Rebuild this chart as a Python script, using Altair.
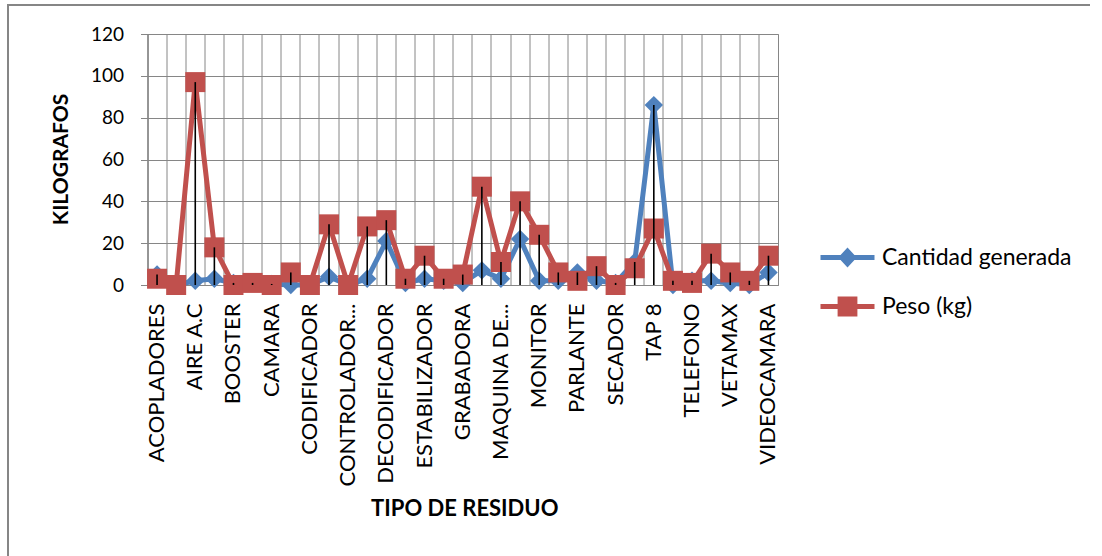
import altair as alt
import pandas as pd

# Tipos de residuo (eje de categorías); solo se rotulan los de posición par
tipos = [
    "ACOPLADORES", "ADAPTADOR", "AIRE A.C", "AMPLIFICADOR", "BOOSTER", "CABLES",
    "CAMARA", "CARGADOR", "CODIFICADOR", "COMPUTADOR", "CONTROLADOR...", "CPU",
    "DECODIFICADOR", "DVD", "ESTABILIZADOR", "FAX", "GRABADORA", "IMPRESORA",
    "MAQUINA DE...", "MODEM", "MONITOR", "MOUSE", "PARLANTE", "RADIO",
    "SECADOR", "SWITCH", "TAP 8", "TECLADO", "TELEFONO", "TELEVISOR",
    "VETAMAX", "VHS", "VIDEOCAMARA",
]
cantidad = [5, 0, 2, 3, 1, 1, 0.5, 0, 0, 4, 0, 3, 21, 1, 3, 2, 1, 7, 3, 22,
            2, 2, 6, 2, 1, 11, 86, 0, 2, 2, 1, 0, 6]
peso = [3, 0, 97, 18, 0, 1, 0, 6, 0, 29, 0, 28, 31, 3, 14, 3, 5, 47, 11, 40,
        24, 6, 2, 9, 0, 8, 27, 2, 1, 15, 6, 2, 14]
series = ["Cantidad generada", "Peso (kg)"]
y_ticks = [0, 20, 40, 60, 80, 100, 120]

AZUL = "#4F81BD"
ROJO = "#C0504D"
GRIS = "#868686"
FUENTE = "Lato"

W, H = 630.5, 251
PAD_L, PAD_T = 147.5, 34

ocultos = [t for i, t in enumerate(tipos) if i % 2 == 1]

wide = pd.DataFrame({"tipo": tipos, "cantidad": cantidad, "peso": peso})
long = pd.DataFrame({
    "tipo": tipos * 2,
    "serie": [series[0]] * len(tipos) + [series[1]] * len(tipos),
    "valor": cantidad + peso,
})

x_enc = alt.X(
    "tipo:N",
    sort=tipos,
    scale=alt.Scale(type="band", paddingInner=0, paddingOuter=0),
    axis=alt.Axis(
        title="TIPO DE RESIDUO",
        bandPosition=0,
        grid=True,
        gridColor=GRIS,
        gridWidth=1,
        ticks=False,
        domainColor=GRIS,
        labelAngle=-90,
        labelAlign="right",
        labelBaseline="middle",
        labelOffset=0,
        labelPadding=18,
        labelFont=FUENTE,
        labelFontSize=22,
        labelColor="black",
        labelLimit=400,
        labelOverlap=False,
        labelExpr="indexof(" + str(ocultos) + ", datum.value) >= 0 ? '' : datum.label",
        titleFont=FUENTE,
        titleFontSize=22,
        titleFontWeight="bold",
        titleColor="black",
        titleX=W / 2 + 1.5,
        titleY=223,
        titleAlign="center",
        titleBaseline="middle",
    ),
)

y_scale = alt.Scale(domain=[0, 120], nice=False)
y_axis = alt.Axis(
    title="KILOGRAFOS",
    values=y_ticks,
    grid=True,
    gridColor=GRIS,
    gridWidth=1,
    tickSize=7,
    tickColor=GRIS,
    domainColor=GRIS,
    labelFont=FUENTE,
    labelFontSize=19,
    labelColor="black",
    labelPadding=17,
    titleFont=FUENTE,
    titleFontSize=21,
    titleFontWeight="bold",
    titleColor="black",
    titleAngle=270,
    titleX=-86,
    titleY=125,
    titleAlign="center",
    titleBaseline="middle",
)

base = alt.Chart(wide)

linea_cant = base.mark_line(color=AZUL, strokeWidth=5).encode(
    x=x_enc, y=alt.Y("cantidad:Q", scale=y_scale, axis=y_axis)
)
puntos_cant = base.mark_point(
    shape="diamond", filled=True, size=340, color=AZUL, opacity=1
).encode(x=x_enc, y=alt.Y("cantidad:Q", scale=y_scale))

linea_peso = base.mark_line(color=ROJO, strokeWidth=5).encode(
    x=x_enc, y=alt.Y("peso:Q", scale=y_scale)
)
puntos_peso = base.mark_point(
    shape="square", filled=True, size=400, color=ROJO, opacity=1
).encode(x=x_enc, y=alt.Y("peso:Q", scale=y_scale))

# Líneas de proyección desde el valor más alto hasta el eje
proyeccion = base.transform_calculate(
    tope="max(datum.cantidad, datum.peso)", cero="0"
).mark_rule(color="black", strokeWidth=1.6).encode(
    x=x_enc,
    y=alt.Y("tope:Q", scale=y_scale),
    y2="cero:Q",
)

# Símbolos de leyenda: trazo de línea con su marcador
SIM_ROMBO = ("M-3,-0.27L-0.77,-0.27L0,-1.1L0.77,-0.27L3,-0.27L3,0.27"
             "L0.77,0.27L0,1.1L-0.77,0.27L-3,0.27Z")
SIM_CUADRO = ("M-3,-0.27L-1.1,-0.27L-1.1,-1.1L1.1,-1.1L1.1,-0.27L3,-0.27"
              "L3,0.27L1.1,0.27L1.1,1.1L-1.1,1.1L-1.1,0.27L-3,0.27Z")

leyenda = alt.Legend(
    title=None,
    orient="none",
    legendX=688.5,
    legendY=212,
    symbolSize=324,
    symbolStrokeWidth=0,
    symbolOpacity=1,
    labelFont=FUENTE,
    labelFontSize=23,
    labelColor="black",
    labelOffset=23,
    labelLimit=400,
    rowPadding=25,
)
capa_leyenda = alt.Chart(long).mark_point(filled=True, opacity=0).encode(
    x=x_enc,
    y=alt.Y("valor:Q", scale=y_scale),
    color=alt.Color("serie:N", scale=alt.Scale(domain=series, range=[AZUL, ROJO]), legend=leyenda),
    shape=alt.Shape("serie:N", scale=alt.Scale(domain=series, range=[SIM_ROMBO, SIM_CUADRO]), legend=leyenda),
)

# Marco exterior del gráfico
marco_izq = alt.Chart(wide).mark_rule(color=GRIS, strokeWidth=1.5).encode(
    x=alt.value(8 - PAD_L), y=alt.value(4.7 - PAD_T), y2=alt.value(560 - PAD_T)
)
marco_sup = alt.Chart(wide).mark_rule(color=GRIS, strokeWidth=1.5).encode(
    x=alt.value(8 - PAD_L), x2=alt.value(1090 - PAD_L), y=alt.value(4.7 - PAD_T)
)

chart = alt.layer(
    linea_cant, puntos_cant, linea_peso, puntos_peso, proyeccion, capa_leyenda,
    marco_izq, marco_sup,
).properties(
    width=W,
    height=H,
    autosize=alt.AutoSizeParams(type="none"),
    padding={"left": PAD_L, "top": PAD_T, "right": 1102 - PAD_L - W, "bottom": 556 - PAD_T - H},
    background="white",
).configure_view(
    stroke=GRIS, strokeWidth=1
)

chart.save("out.html", embed_options={"renderer": "svg", "actions": False})
